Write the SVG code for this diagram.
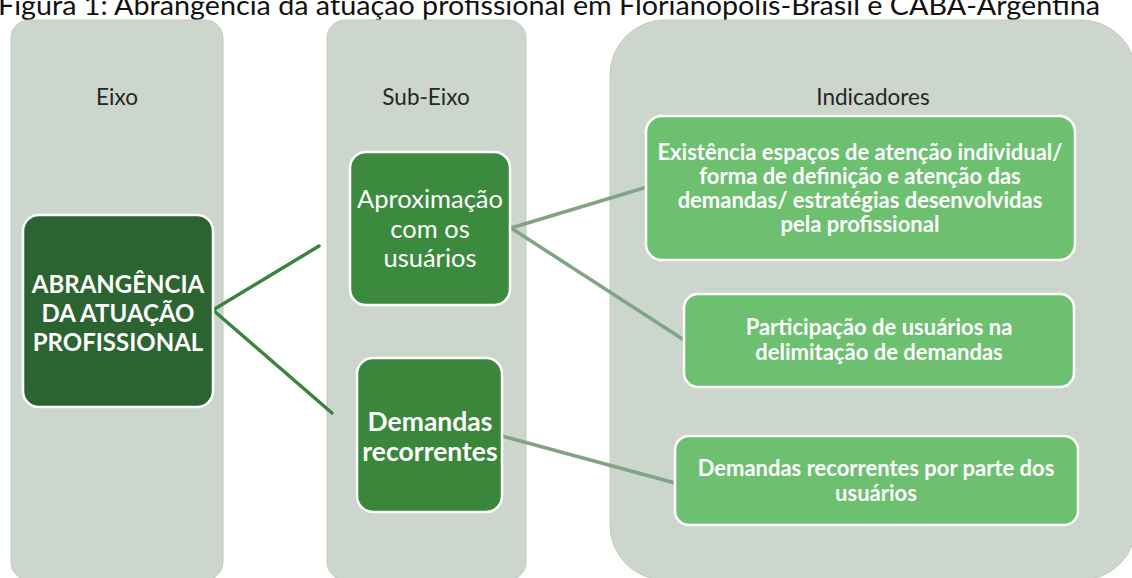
<svg xmlns="http://www.w3.org/2000/svg" width="1132" height="578" viewBox="0 0 1132 578">
<style>
.panel{fill:#cdd6cc;stroke:#c2cac1;stroke-width:1}
.hdr{font-family:Lato,"Liberation Sans",sans-serif;font-size:22.5px;fill:#262626;text-anchor:middle}
.dark{stroke:#ffffff;stroke-width:2.5}
.ind{fill:#6cc070;stroke:#ffffff;stroke-width:2.5}
.wt{font-family:Lato,"Liberation Sans",sans-serif;fill:#ffffff;text-anchor:middle}
.b{font-weight:bold}
.it{font-weight:bold;font-size:22px}
.c1{stroke:#3a8440;stroke-width:3.5;fill:none;stroke-linecap:round}
.c2{stroke:#7fa486;stroke-width:3.5;fill:none;stroke-linecap:round}
</style>
<rect width="1132" height="578" fill="#ffffff"/>
<text x="-2" y="15" font-family="Lato,'Liberation Sans',sans-serif" font-size="27" fill="#111" textLength="1102" lengthAdjust="spacingAndGlyphs">Figura 1: Abrangência da atuação profissional em Florianópolis-Brasil e CABA-Argentina</text>

<g id="panel-eixo">
<rect class="panel" x="11" y="20" width="212" height="560" rx="18"/>
<text class="hdr" x="117" y="105">Eixo</text>
</g>
<g id="panel-subeixo">
<rect class="panel" x="327" y="20" width="199" height="560" rx="18"/>
<text class="hdr" x="426" y="105">Sub-Eixo</text>
</g>
<g id="panel-indicadores">
<rect class="panel" x="610" y="20" width="526" height="560" rx="55"/>
<text class="hdr" x="873" y="105">Indicadores</text>
</g>

<g id="connectors">
<line class="c1" x1="213" y1="310" x2="319" y2="246"/>
<line class="c1" x1="213" y1="310" x2="332" y2="413"/>
<line class="c2" x1="511" y1="228" x2="647" y2="187"/>
<line class="c2" x1="511" y1="228" x2="684" y2="340"/>
<line class="c2" x1="502" y1="436" x2="675" y2="483"/>
</g>

<g id="node-abrangencia">
<rect class="dark" x="23" y="215" width="190" height="192" rx="16" fill="#2b6430"/>
<text class="wt b" x="118" y="293" font-size="24">ABRANGÊNCIA</text>
<text class="wt b" x="118" y="322" font-size="24">DA ATUAÇÃO</text>
<text class="wt b" x="118" y="351" font-size="24">PROFISSIONAL</text>
</g>

<g id="node-aproximacao">
<rect class="dark" x="350" y="152" width="160" height="153" rx="16" fill="#3b8a3e"/>
<text class="wt" x="430" y="208" font-size="25.5">Aproximação</text>
<text class="wt" x="430" y="238" font-size="25.5">com os</text>
<text class="wt" x="430" y="267" font-size="25.5">usuários</text>
</g>

<g id="node-demandas">
<rect class="dark" x="357" y="358" width="145" height="154" rx="16" fill="#3a863b"/>
<text class="wt b" x="430" y="431" font-size="26.5">Demandas</text>
<text class="wt b" x="430" y="461" font-size="26.5">recorrentes</text>
</g>

<g id="node-ind1">
<rect class="ind" x="646" y="116" width="429" height="144" rx="16"/>
<text class="wt it" x="860" y="160">Existência espaços de atenção individual/</text>
<text class="wt it" x="860" y="184">forma de definição e atenção das</text>
<text class="wt it" x="860" y="208">demandas/ estratégias desenvolvidas</text>
<text class="wt it" x="860" y="232">pela profissional</text>
</g>

<g id="node-ind2">
<rect class="ind" x="684" y="294" width="390" height="93" rx="14"/>
<text class="wt it" x="879" y="335">Participação de usuários na</text>
<text class="wt it" x="879" y="360">delimitação de demandas</text>
</g>

<g id="node-ind3">
<rect class="ind" x="675" y="436" width="403" height="89" rx="14"/>
<text class="wt it" x="876" y="476">Demandas recorrentes por parte dos</text>
<text class="wt it" x="876" y="501">usuários</text>
</g>
</svg>
